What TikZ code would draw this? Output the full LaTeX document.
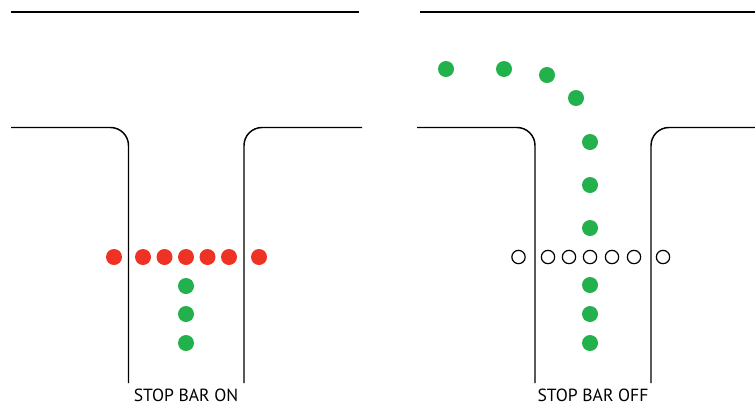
\documentclass[tikz,border=0pt]{standalone}
\usepackage{fontspec}
\setmainfont{PT Sans}
\usepackage{tikz}

\definecolor{barred}{RGB}{238,50,36}
\definecolor{lanegreen}{RGB}{34,177,76}

\begin{document}
\begin{tikzpicture}[x=0.75pt,y=0.75pt,yscale=-1,xscale=1,
  kerb/.style={line width=1.1pt, rounded corners=13.5pt},
  redlamp/.style={circle, fill=barred, minimum size=12pt, inner sep=0pt},
  greenlamp/.style={circle, fill=lanegreen, minimum size=12pt, inner sep=0pt},
  offlamp/.style={circle, draw=black, line width=0.9pt, minimum size=10pt, inner sep=0pt},
  caption/.style={anchor=base, inner sep=0.75pt, font=\fontsize{13.2pt}{15pt}\selectfont}]
\useasboundingbox (0,0) rectangle (755,405);

%Straight Lines: far kerbs
\draw [line width=1.1pt]   (11,12) -- (359,12) ;
\draw [line width=1.1pt]   (420,12) -- (755,12) ;

%Kerbs: left junction
\draw [kerb]   (11,127.5) -- (128.5,127.5) -- (128.5,383) ;
\draw [kerb]   (362,127.5) -- (244,127.5) -- (244,383) ;
%Kerbs: right junction
\draw [kerb]   (417,127.5) -- (535,127.5) -- (535,383) ;
\draw [kerb]   (755,127.5) -- (651,127.5) -- (651,383) ;

% Stop bar on
\node [redlamp] (on1) at (114,257) {};
\node [redlamp] (on2) at (143,257) {};
\node [redlamp] (on3) at (164.5,257) {};
\node [redlamp] (on4) at (186,257) {};
\node [redlamp] (on5) at (207.5,257) {};
\node [redlamp] (on6) at (229,257) {};
\node [redlamp] (on7) at (259,257) {};
% Lead-in lamps
\node [greenlamp] (ina) at (186,286) {};
\node [greenlamp] (inb) at (186,314) {};
\node [greenlamp] (inc) at (186,343) {};

% Stop bar off
\node [offlamp] (off1) at (518.5,257) {};
\node [offlamp] (off2) at (548,257) {};
\node [offlamp] (off3) at (569,257) {};
\node [offlamp] (off4) at (590,257) {};
\node [offlamp] (off5) at (612,257) {};
\node [offlamp] (off6) at (634,257) {};
\node [offlamp] (off7) at (663,257) {};
% Route lamps
\node [greenlamp] (rt1) at (446,69) {};
\node [greenlamp] (rt2) at (504,69) {};
\node [greenlamp] (rt3) at (547,75) {};
\node [greenlamp] (rt4) at (576,98) {};
\node [greenlamp] (rt5) at (590,142) {};
\node [greenlamp] (rt6) at (590,185) {};
\node [greenlamp] (rt7) at (590,228) {};
\node [greenlamp] (rt8) at (590,285) {};
\node [greenlamp] (rt9) at (590,314) {};
\node [greenlamp] (rt10) at (590,343) {};

% Text Node
\node [caption] (capon) at (186,401.5) {STOP BAR ON};
% Text Node
\node [caption] (capoff) at (593,401.5) {STOP BAR OFF};

\end{tikzpicture}
\end{document}
